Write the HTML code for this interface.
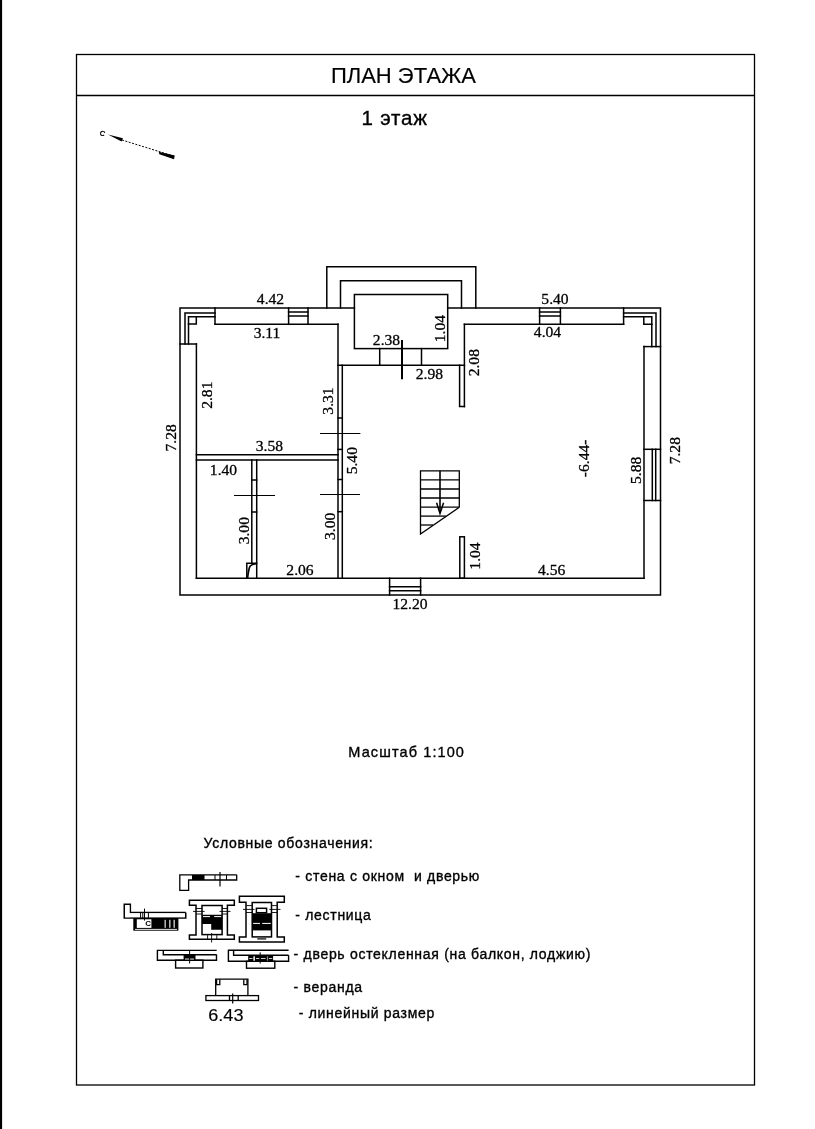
<!DOCTYPE html>
<html><head><meta charset="utf-8">
<style>
html,body{margin:0;padding:0;background:#fff;width:815px;height:1129px;overflow:hidden;}
svg{position:absolute;left:0;top:0;display:block;will-change:transform;}
.s{font-family:"Liberation Sans",sans-serif;fill:#000;stroke:#000;stroke-width:0.35px;}
.d{font-family:"Liberation Serif",serif;fill:#000;font-size:15.6px;stroke:#000;stroke-width:0.3px;}
</style></head><body>
<svg width="815" height="1129" viewBox="0 0 815 1129">
<!-- left edge bar -->
<rect x="0" y="0" width="2.1" height="1129" fill="#000"/>
<!-- frame -->
<g fill="none" stroke="#000" stroke-width="1.3">
<rect x="76.5" y="54.5" width="678" height="1030.5"/>
<line x1="76.5" y1="95.5" x2="754.5" y2="95.5"/>
</g>
<text class="s" x="403.5" y="83" font-size="22" text-anchor="middle" style="stroke-width:0.15px">ПЛАН ЭТАЖА</text>
<text class="s" x="394.7" y="125.2" font-size="20.5" letter-spacing="0.8" text-anchor="middle">1 этаж</text>

<!-- north arrow -->
<g>
<text class="s" x="100" y="135.5" font-size="7" transform="rotate(20 102 133)">С</text>
<polygon points="108,134.5 123,138.2 121.5,141.5" fill="#000"/>
<line x1="122" y1="140" x2="175" y2="156.5" stroke="#000" stroke-width="1" stroke-dasharray="2,1.5"/>
<polygon points="158.7,151.8 174.7,155.5 174,159.2 159.3,154.3" fill="#000"/>
</g>

<!-- PLAN -->
<g fill="none" stroke="#000" stroke-width="1.5" stroke-linecap="square">
<!-- outer boundary -->
<polyline points="354.4,308 180,308 180,595 660.5,595 660.5,308 447.7,308"/>
<!-- porch -->
<polyline points="326.8,308 326.8,266.7 475.8,266.7 475.8,308"/>
<polyline points="340.5,308 340.5,280.8 461.5,280.8 461.5,308"/>
<rect x="354.4" y="294.5" width="93.3" height="54.1"/>
<line x1="379.7" y1="348.6" x2="379.7" y2="365"/>
<line x1="421.5" y1="348.6" x2="421.5" y2="365"/>
<!-- top-left corner -->
<polyline points="185,344 185,313 215,313"/>
<polyline points="188.5,344 188.5,316.8 215,316.8"/>
<polyline points="196.3,316.8 196.3,324 188.5,324"/>
<line x1="215" y1="308" x2="215" y2="324"/>
<line x1="180" y1="344" x2="196.4" y2="344"/>
<line x1="196.4" y1="344" x2="196.4" y2="578.2"/>
<!-- top inner wall left -->
<line x1="215" y1="324.3" x2="338" y2="324.3"/>
<!-- window top-left -->
<line x1="288.6" y1="308" x2="288.6" y2="324.3"/>
<line x1="308" y1="308" x2="308" y2="324.3"/>
<line x1="288.6" y1="312" x2="308" y2="312"/>
<line x1="288.6" y1="316" x2="308" y2="316"/>
<!-- partition -->
<line x1="338" y1="324.3" x2="338" y2="578.2"/>
<line x1="338" y1="365.3" x2="464.4" y2="365.3"/>
<line x1="342.3" y1="365.3" x2="342.3" y2="578.2"/>
<line x1="338" y1="418" x2="342.3" y2="418"/>
<line x1="338" y1="449.4" x2="342.3" y2="449.4"/>
<line x1="338" y1="479.5" x2="342.3" y2="479.5"/>
<line x1="338" y1="511.7" x2="342.3" y2="511.7"/>
<!-- left room bottom wall -->
<line x1="196.4" y1="454.8" x2="338" y2="454.8"/>
<line x1="196.4" y1="459.9" x2="338" y2="459.9"/>
<!-- small partition -->
<line x1="251.8" y1="459.9" x2="251.8" y2="563.2"/>
<line x1="256.7" y1="459.9" x2="256.7" y2="578.2"/>
<line x1="251.8" y1="480" x2="256.7" y2="480"/>
<line x1="251.8" y1="512" x2="256.7" y2="512"/>
<!-- toilet -->
<polyline points="246.8,578.2 246.8,563.2 256.7,563.2"/>
<!-- right room -->
<line x1="464.4" y1="324.3" x2="623.6" y2="324.3"/>
<line x1="464.4" y1="324.3" x2="464.4" y2="406.6"/>
<polyline points="464.4,406.6 459.6,406.6 459.6,365.3"/>
<line x1="539.6" y1="308" x2="539.6" y2="324.3"/>
<line x1="560.4" y1="308" x2="560.4" y2="324.3"/>
<line x1="539.6" y1="312" x2="560.4" y2="312"/>
<line x1="539.6" y1="316" x2="560.4" y2="316"/>
<!-- top-right corner -->
<line x1="623.6" y1="308" x2="623.6" y2="324.3"/>
<polyline points="623.6,312.9 656,312.9 656,346.6"/>
<polyline points="623.6,316.8 651.8,316.8 651.8,346.6"/>
<polyline points="643.8,316.8 643.8,324.3 651.8,324.3"/>
<line x1="643.8" y1="346.6" x2="660.5" y2="346.6"/>
<line x1="644" y1="346.6" x2="644" y2="578.2"/>
<!-- right window -->
<line x1="644" y1="449.3" x2="660.5" y2="449.3"/>
<line x1="644" y1="500.5" x2="660.5" y2="500.5"/>
<line x1="652.3" y1="449.3" x2="652.3" y2="500.5"/>
<line x1="655.7" y1="449.3" x2="655.7" y2="500.5"/>
<!-- bottom stub -->
<rect x="459.8" y="536.8" width="4.6" height="41.4"/>
<!-- inner bottom wall -->
<line x1="196.4" y1="578.2" x2="644" y2="578.2"/>
<!-- bottom door -->
<line x1="389.6" y1="578.2" x2="389.6" y2="595"/>
<line x1="420.6" y1="578.2" x2="420.6" y2="595"/>
<line x1="389.6" y1="586.8" x2="420.6" y2="586.8"/>
<line x1="389.6" y1="590.8" x2="420.6" y2="590.8"/>
</g>
<!-- toilet curve -->
<path d="M247.6,578 C248.3,572 249,567.5 250.2,566 C251.5,564.8 254,564 256.5,563.6" fill="none" stroke="#000" stroke-width="1.7"/>
<!-- dimension ticks -->
<g stroke="#000" stroke-width="1">
<line x1="320" y1="433.5" x2="360.4" y2="433.5"/>
<line x1="320" y1="494.5" x2="360" y2="494.5"/>
<line x1="234" y1="495.5" x2="275" y2="495.5"/>
</g>
<line x1="402" y1="340" x2="402" y2="379.3" stroke="#000" stroke-width="2"/>
<!-- stairs -->
<g fill="none" stroke="#000" stroke-width="1.3">
<polyline points="459.3,507.3 459.3,470.8 420.5,470.8 420.5,534.1 459.3,507.3"/>
<line x1="420.5" y1="479.8" x2="459.3" y2="479.8"/>
<line x1="420.5" y1="489" x2="459.3" y2="489"/>
<line x1="420.5" y1="498" x2="459.3" y2="498"/>
<line x1="420.5" y1="507.1" x2="459.3" y2="507.1"/>
<line x1="420.5" y1="516.1" x2="446" y2="516.1"/>
<line x1="420.5" y1="525" x2="433" y2="525"/>
</g>
<line x1="440" y1="470.8" x2="440" y2="513" stroke="#000" stroke-width="1.6"/>
<path d="M436.6,502.7 L440,513.5 L443.6,502.7" fill="none" stroke="#000" stroke-width="1.5"/>

<!-- dimension labels -->
<g class="d" text-anchor="middle">
<text x="270.5" y="303.5">4.42</text>
<text x="267" y="337.6">3.11</text>
<text x="386.5" y="344.7">2.38</text>
<text x="429.4" y="378.8">2.98</text>
<text x="555" y="303.7">5.40</text>
<text x="547.5" y="337.2">4.04</text>
<text x="269.4" y="451.4">3.58</text>
<text x="223.5" y="475.3">1.40</text>
<text x="300" y="574.5">2.06</text>
<text x="410" y="609">12.20</text>
<text x="551.7" y="575.3">4.56</text>
</g>
<g class="d" text-anchor="middle" dominant-baseline="central">
<text x="440" y="328.6" transform="rotate(-90 440 328.6)">1.04</text>
<text x="474" y="362.7" transform="rotate(-90 474 362.7)">2.08</text>
<text x="207" y="395.2" transform="rotate(-90 207 395.2)">2.81</text>
<text x="327.7" y="401" transform="rotate(-90 327.7 401)">3.31</text>
<text x="170.2" y="437.8" transform="rotate(-90 170.2 437.8)">7.28</text>
<text x="352" y="460.7" transform="rotate(-90 352 460.7)">5.40</text>
<text x="244" y="530.7" transform="rotate(-90 244 530.7)">3.00</text>
<text x="329.5" y="526.4" transform="rotate(-90 329.5 526.4)">3.00</text>
<text x="474" y="556" transform="rotate(-90 474 556)">1.04</text>
<text x="584" y="458.4" transform="rotate(-90 584 458.4)">-6.44-</text>
<text x="635.6" y="470.4" transform="rotate(-90 635.6 470.4)">5.88</text>
<text x="674.3" y="450.7" transform="rotate(-90 674.3 450.7)">7.28</text>
</g>

<text class="s" x="406.7" y="757.3" font-size="14.5" letter-spacing="1.1" text-anchor="middle">Масштаб 1:100</text>

<!-- legend -->
<g class="s" font-size="14" letter-spacing="0.7">
<text x="203.6" y="848.4">Условные обозначения:</text>
<text x="295.3" y="880.9">- стена с окном&#160; и дверью</text>
<text x="295.3" y="920.1">- лестница</text>
<text x="293.6" y="959.3">- дверь остекленная (на балкон, лоджию)</text>
<text x="293.6" y="992">- веранда</text>
<text x="298.7" y="1018.2">- линейный размер</text>
</g>
<text class="s" x="0" y="0" font-size="16" transform="translate(208.3 1020.8) scale(1.13 1)" style="stroke-width:0.15px">6.43</text>

<!-- legend icon 1 -->
<g fill="none" stroke="#000" stroke-width="1.3">
<polyline points="236.7,874.8 179.8,874.8 179.8,890.3 188.6,890.3 188.6,880 236.7,880 236.7,874.8"/>
</g>
<rect x="192" y="875" width="12.5" height="5" fill="#000"/>
<g fill="none" stroke="#000" stroke-width="1">
<line x1="215" y1="875" x2="215" y2="880"/>
<line x1="226.5" y1="875" x2="226.5" y2="880"/>
</g>
<line x1="220" y1="872" x2="220" y2="886.6" stroke="#000" stroke-width="1.2"/>

<!-- legend icon 2a -->
<rect x="133.3" y="918" width="45.1" height="12.7" fill="#000"/>
<g fill="none" stroke="#000" stroke-width="1.6">
<polyline points="185.7,912.5 130.3,912.5 130.3,904.3 124.3,904.3 124.3,918 185.7,918 185.7,912.5"/>
</g>
<rect x="125.2" y="905.1" width="4.3" height="12.1" fill="#fff"/>
<rect x="125.2" y="913.3" width="59.7" height="3.9" fill="#fff"/>
<rect x="136.8" y="919.3" width="14.6" height="8.6" fill="#fff"/>
<rect x="135" y="928.9" width="42" height="0.9" fill="#fff"/>
<rect x="164.6" y="919.8" width="1.1" height="8" fill="#fff"/>
<rect x="169.3" y="919.8" width="1.1" height="8" fill="#fff"/>
<rect x="173.6" y="919.8" width="1.1" height="8" fill="#fff"/>
<text x="145.3" y="925.6" font-family="Liberation Sans" font-size="8" font-weight="bold" fill="#000">C</text>
<g stroke="#000" stroke-width="1">
<line x1="144.5" y1="908.6" x2="144.5" y2="920.6"/>
<line x1="140.6" y1="912.5" x2="140.6" y2="918"/>
<line x1="142.8" y1="912.5" x2="142.8" y2="918"/>
<line x1="148.4" y1="912.5" x2="148.4" y2="918"/>
</g>

<!-- legend icon 2b -->
<g fill="none" stroke="#000" stroke-width="1.5">
<polygon points="189.4,900.3 234.3,900.3 234.3,905.3 227.4,905.3 227.4,935.1 234.3,935.1 234.3,939.3 189.4,939.3 189.4,935.1 196,935.1 196,905.3 189.4,905.3"/>
<rect x="202" y="905.5" width="20.1" height="29.1"/>
</g>
<path d="M202,914.7 H222.1 V929.8 H211.2 V924 H202 Z" fill="#000"/>
<g fill="#fff"><rect x="203" y="916.1" width="7" height="1"/><rect x="214.2" y="916.1" width="7" height="1"/></g>
<g stroke="#000" stroke-width="0.9">
<line x1="196" y1="908.5" x2="202" y2="908.5"/>
<line x1="193" y1="911.4" x2="204.6" y2="911.4"/>
<line x1="196" y1="914" x2="202" y2="914"/>
<line x1="222.1" y1="908.5" x2="227.4" y2="908.5"/>
<line x1="219.5" y1="911.4" x2="230.5" y2="911.4"/>
<line x1="222.1" y1="914" x2="227.4" y2="914"/>
<line x1="207.6" y1="935.1" x2="207.6" y2="939.3"/>
<line x1="216.8" y1="935.1" x2="216.8" y2="939.3"/>
<line x1="211.6" y1="933" x2="211.6" y2="942.5"/>
</g>

<!-- legend icon 2c -->
<g fill="none" stroke="#000" stroke-width="1.5">
<polygon points="239.4,896.3 284.3,896.3 284.3,902.3 277.2,902.3 277.2,936.9 284.3,936.9 284.3,941.9 239.4,941.9 239.4,936.9 246,936.9 246,902.3 239.4,902.3"/>
<rect x="252.2" y="902.5" width="19.3" height="34.4"/>
<rect x="256.4" y="908.3" width="10.2" height="4.4"/>
</g>
<rect x="252.2" y="913.2" width="19.3" height="17.2" fill="#000"/>
<g fill="#fff"><rect x="253.1" y="922.9" width="6.9" height="1"/><rect x="262.2" y="922.9" width="8.6" height="1"/></g>
<g stroke="#000" stroke-width="0.9">
<line x1="246" y1="905.6" x2="252.2" y2="905.6"/>
<line x1="243" y1="909.4" x2="254.6" y2="909.4"/>
<line x1="246" y1="912.5" x2="252.2" y2="912.5"/>
<line x1="271.5" y1="905.6" x2="277.2" y2="905.6"/>
<line x1="269.3" y1="909.4" x2="280.5" y2="909.4"/>
<line x1="271.5" y1="912.5" x2="277.2" y2="912.5"/>
</g>
<rect x="257.3" y="938.3" width="8.9" height="1.2" fill="#000"/>

<!-- legend icon 3a -->
<g fill="none" stroke="#000" stroke-width="1.4">
<polyline points="216.7,950.4 157.4,950.4 157.4,960.2 216.5,960.2 216.5,954.7"/>
<polyline points="163.3,950.4 163.3,954.7 216.7,954.7"/>
<rect x="175.6" y="960.2" width="27.3" height="7.8"/>
</g>
<rect x="183.6" y="954.7" width="11.9" height="5.5" fill="#000"/>
<rect x="185" y="958.6" width="9" height="0.9" fill="#fff"/>
<line x1="189.6" y1="950.4" x2="189.6" y2="963.5" stroke="#000" stroke-width="1"/>

<!-- legend icon 3b -->
<g fill="none" stroke="#000" stroke-width="1.4">
<polyline points="288.6,950.3 228.4,950.3 228.4,961.3 288.6,961.3 288.6,955.3"/>
<polyline points="233.6,950.3 233.6,955.3 288.6,955.3"/>
<rect x="246.5" y="961.3" width="28.3" height="6.9"/>
</g>
<rect x="248.2" y="955.5" width="24.9" height="5.8" fill="#000"/>
<g fill="#fff">
<rect x="253.4" y="956.3" width="1.5" height="4.4"/>
<rect x="249.2" y="958" width="3.3" height="0.8"/>
<rect x="256" y="958" width="3.4" height="0.8"/>
<rect x="261" y="958" width="4.5" height="0.8"/>
<rect x="269" y="958" width="3.3" height="0.8"/>
</g>
<rect x="266.9" y="956.3" width="1.2" height="4.4" fill="#888"/>
<line x1="260.2" y1="952.3" x2="260.2" y2="963.5" stroke="#000" stroke-width="1"/>

<!-- legend icon 4 -->
<g fill="none" stroke="#000" stroke-width="1.3">
<polyline points="215.7,995.6 215.7,979.2 247.9,979.2 247.9,995.6"/>
<rect x="205.9" y="995.6" width="52.6" height="4.9"/>
<polyline points="216.6,979.2 216.6,984.7 219.8,984.7 219.8,979.2"/>
<polyline points="243.8,979.2 243.8,984.7 247,984.7 247,979.2"/>
<line x1="229.5" y1="995.6" x2="229.5" y2="1000.5"/>
<line x1="238.2" y1="995.6" x2="238.2" y2="1000.5"/>
</g>
<line x1="232.7" y1="993.5" x2="232.7" y2="1003.6" stroke="#000" stroke-width="1.2"/>
</svg>
</body></html>
